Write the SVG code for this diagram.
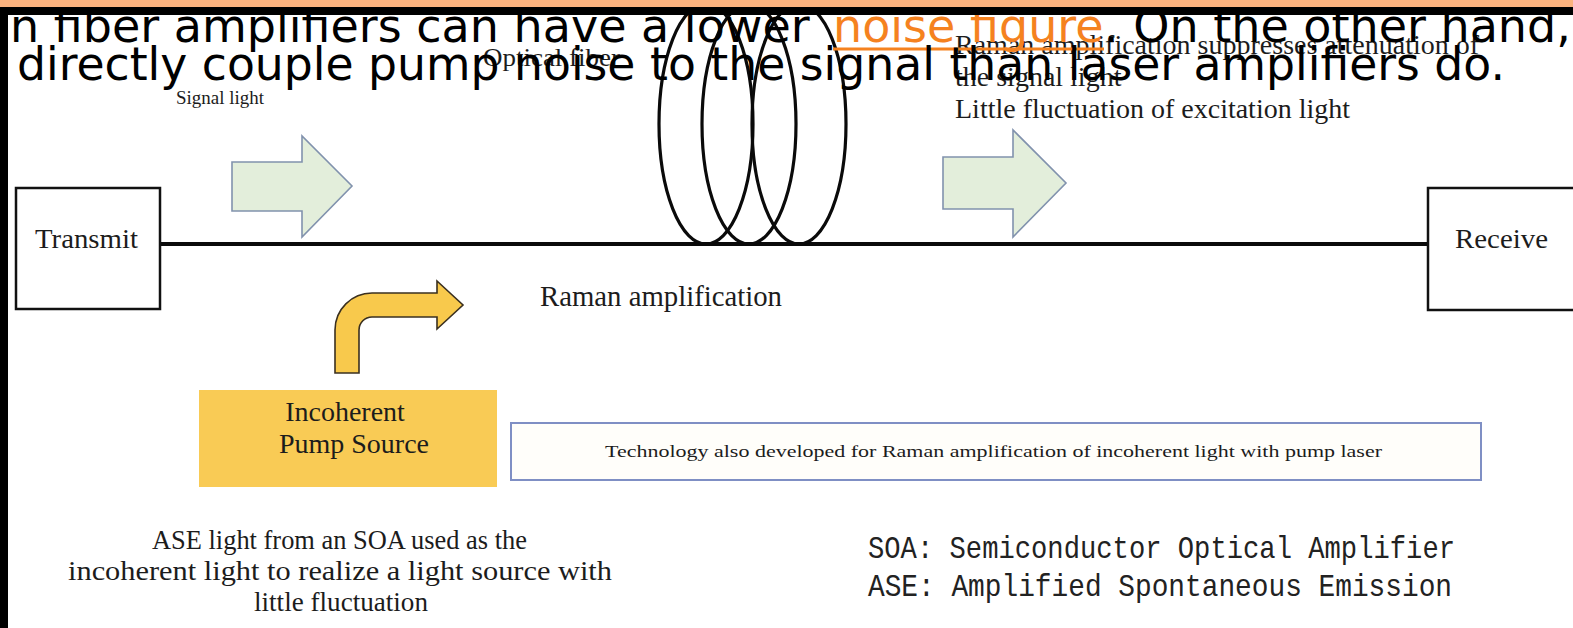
<svg xmlns="http://www.w3.org/2000/svg" width="1573" height="628" viewBox="0 0 1573 628">
<defs>
<style>
.serif{font-family:"Liberation Serif","Times New Roman",serif;fill:#1c1c1c}
.mono{font-family:"Liberation Mono","DejaVu Sans Mono",monospace;fill:#222}
.over{font-family:"DejaVu Sans",Verdana,sans-serif;font-size:46px;fill:#000}
.over.link{fill:#f5821f}
.box{fill:#fff;stroke:#111;stroke-width:2.5}
.garrow{fill:#e3eedb;stroke:#8192ad;stroke-width:1.6}
.loop{fill:none;stroke:#0a0a0a;stroke-width:3.2}
</style>
</defs>
<rect x="0" y="0" width="1573" height="628" fill="#fff"/>

<g id="connectors">
<line x1="160" y1="244" x2="1428" y2="244" stroke="#0a0a0a" stroke-width="4"/>
</g>

<g id="fiber">
<ellipse class="loop" cx="706" cy="124" rx="47" ry="120"/>
<ellipse class="loop" cx="749" cy="124" rx="47" ry="120"/>
<ellipse class="loop" cx="799" cy="124" rx="47" ry="120"/>
<text class="serif" x="483" y="66" font-size="26" fill="#333" textLength="137" lengthAdjust="spacingAndGlyphs">Optical fiber</text>
</g>

<g id="transmit">
<rect class="box" x="16" y="188" width="144" height="121"/>
<text class="serif" x="35" y="248" font-size="28" textLength="103" lengthAdjust="spacingAndGlyphs">Transmit</text>
</g>

<g id="receive">
<rect class="box" x="1428" y="188" width="150" height="122"/>
<text class="serif" x="1455" y="248" font-size="28" textLength="93" lengthAdjust="spacingAndGlyphs">Receive</text>
</g>

<g id="signal-in">
<path class="garrow" d="M232,162 H302 V136 L352,186 L302,237 V211 H232 Z"/>
<text class="serif" x="176" y="104" font-size="19" fill="#555" textLength="88" lengthAdjust="spacingAndGlyphs">Signal light</text>
</g>

<g id="signal-out">
<path class="garrow" d="M943,157 H1013 V130 L1066,183 L1013,237 V209 H943 Z"/>
<text class="serif" x="955" y="54" font-size="28" fill="#333">Raman amplification suppresses attenuation of</text>
<text class="serif" x="955" y="86" font-size="28" fill="#333">the signal light</text>
<text class="serif" x="955" y="118" font-size="28" fill="#333">Little fluctuation of excitation light</text>
</g>

<g id="raman">
<text class="serif" x="540" y="306" font-size="29" textLength="242" lengthAdjust="spacingAndGlyphs">Raman amplification</text>
</g>

<g id="pump">
<path d="M335,373 V330 A37,37 0 0 1 372,293 H437 V281 L463,305 L437,329 V317 H372 A13,13 0 0 0 359,330 V373 Z" fill="#f8c94c" stroke="#3a3020" stroke-width="1.6"/>
<rect x="199" y="390" width="298" height="97" fill="#f9cb55"/>
<text class="serif" x="345" y="421" font-size="28" text-anchor="middle">Incoherent</text>
<text class="serif" x="354" y="453" font-size="28" text-anchor="middle">Pump Source</text>
</g>

<g id="technology">
<rect x="511" y="423" width="970" height="57" fill="#fffefa" stroke="#7f8fc4" stroke-width="2"/>
<text class="serif" x="605" y="457" font-size="17" textLength="777" lengthAdjust="spacingAndGlyphs">Technology  also  developed  for  Raman  amplification  of incoherent  light with pump laser</text>
</g>

<g id="ase-note">
<text class="serif" x="152" y="549" font-size="28" textLength="375" lengthAdjust="spacingAndGlyphs">ASE light from an SOA used as the</text>
<text class="serif" x="68" y="580" font-size="28" textLength="544" lengthAdjust="spacingAndGlyphs">incoherent light to realize a light source with</text>
<text class="serif" x="254" y="611" font-size="28" textLength="174" lengthAdjust="spacingAndGlyphs">little fluctuation</text>
</g>

<g id="legend">
<text class="mono" x="868" y="558" font-size="32" textLength="587" lengthAdjust="spacingAndGlyphs">SOA: Semiconductor Optical Amplifier</text>
<text class="mono" x="868" y="596" font-size="32" textLength="584" lengthAdjust="spacingAndGlyphs">ASE: Amplified Spontaneous Emission</text>
</g>

<g id="overlay">
<text class="over" x="10" y="42">n fiber amplifiers can have a lower</text>
<text class="over link" x="833" y="42">noise figure</text>
<line x1="833" y1="49" x2="1104" y2="49" stroke="#f5821f" stroke-width="3"/>
<text class="over" x="1104" y="42">. On the other hand,</text>
<text class="over" x="17" y="80" textLength="1488" lengthAdjust="spacingAndGlyphs">directly couple pump noise to the signal than laser amplifiers do.</text>
</g>

<g id="frame">
<rect x="0" y="0" width="1573" height="7" fill="#fbb27e"/>
<rect x="0" y="7" width="1573" height="8" fill="#000"/>
<rect x="0" y="7" width="8" height="621" fill="#000"/>
</g>
</svg>
